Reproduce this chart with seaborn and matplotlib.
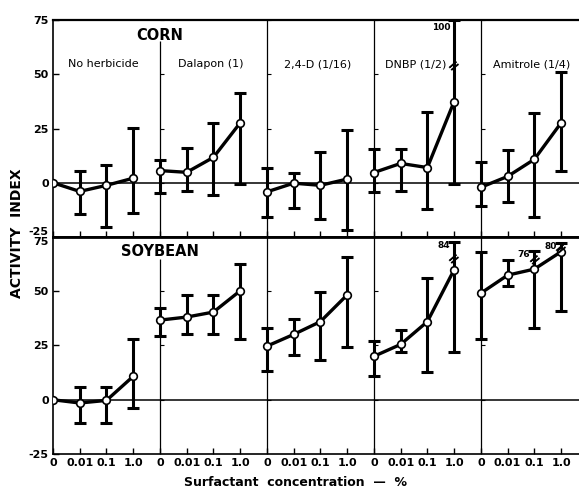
import numpy as np
import pandas as pd
import matplotlib
matplotlib.use("Agg")
import matplotlib.pyplot as plt
import seaborn as sns

# ---------------- data ----------------
concentrations = ["0", "0.01", "0.1", "1.0"]
treatments = ["No herbicide", "Dalapon (1)", "2,4-D (1/16)", "DNBP (1/2)", "Amitrole (1/4)"]

corn_mean = [0.0, -4.0, -1.2, 2.1, 5.6, 4.8, 11.7, 27.6, -4.2, -0.2, -1.2, 1.7,
             4.7, 8.9, 7.0, 37.4, -2.1, 2.9, 10.8, 27.6]
corn_low = [np.nan, -14.5, -20.5, -13.8, -4.7, -4.0, -5.5, -0.6, -15.8, -11.8, -16.8, -21.7,
            -4.2, -4.0, -12.0, -0.5, -10.8, -9.0, -15.6, 5.5]
corn_high = [np.nan, 5.6, 8.2, 25.3, 10.5, 15.8, 27.6, 41.5, 6.7, 4.7, 14.0, 24.4,
             15.5, 15.5, 32.4, 100.0, 9.7, 15.0, 32.1, 51.0]

soy_mean = [0.0, -1.5, -0.3, 10.8, 36.7, 38.1, 40.4, 50.2, 24.7, 30.1, 36.0, 48.3,
            20.0, 25.5, 36.0, 59.9, 49.1, 57.4, 60.2, 68.2]
soy_low = [np.nan, -10.5, -10.5, -3.9, 29.6, 30.4, 30.4, 28.2, 13.1, 20.8, 18.2, 24.4,
           10.8, 22.1, 12.6, 22.1, 28.2, 52.2, 33.2, 40.9]
soy_high = [np.nan, 5.9, 5.9, 28.2, 42.4, 48.3, 48.1, 62.5, 33.2, 37.0, 49.7, 65.9,
            27.0, 32.1, 56.0, 84.0, 67.9, 64.4, 76.0, 80.0]

# off-scale error bars: index, drawn cap height, break-mark height
corn_break_idx = [15]
corn_break_cap = [75.0]
corn_break_mark = [54.5]
soy_break_idx = [15, 18, 19]
soy_break_cap = [72.7, 68.5, 72.0]
soy_break_mark = [65.5, 65.0, 70.0]

# ---------------- style ----------------
sns.set_theme(style="ticks")
plt.rcParams["font.family"] = ["DejaVu Sans"]
for k in ["text.color", "axes.labelcolor", "xtick.color", "ytick.color", "axes.edgecolor"]:
    plt.rcParams[k] = "black"

n_conc = len(concentrations)
n_pos = n_conc * len(treatments)


def frame(mean, low, high, break_idx, break_cap):
    df = pd.DataFrame({
        "pos": np.arange(n_pos),
        "treatment": np.repeat(treatments, n_conc),
        "conc": concentrations * len(treatments),
        "mean": mean, "low": low, "high": high,
    })
    df["high_disp"] = df["high"]
    for i, c in zip(break_idx, break_cap):
        df.loc[i, "high_disp"] = c
    return df


corn = frame(corn_mean, corn_low, corn_high, corn_break_idx, corn_break_cap)
soy = frame(soy_mean, soy_low, soy_high, soy_break_idx, soy_break_cap)

fig = plt.figure(figsize=(5.79, 4.93), dpi=100)
ax1 = fig.add_axes([0.0915, 0.5193, 0.9085, 0.4401])
ax2 = fig.add_axes([0.0915, 0.0791, 0.9085, 0.4402])

XMAX = 19.67


def draw(ax, df, break_idx, break_cap, break_mark, sep_top_first, lab_dy):
    ax.set_xlim(0, XMAX)
    ax.set_ylim(-25, 75)
    ax.axhline(0, color="black", lw=1.1, zorder=1)
    # group separators
    for g in range(1, len(treatments)):
        top = sep_top_first if g == 1 else 75
        ax.vlines(g * n_conc, -25, top, color="black", lw=0.9, zorder=1)
        ax.plot([g * n_conc] * 4, [0, 25, 50, 75], ls="none", marker=1,
                ms=3, mew=0.8, color="black", zorder=1)
    e = df.dropna(subset=["low"])
    ax.errorbar(e["pos"], e["mean"],
                yerr=[e["mean"] - e["low"], e["high_disp"] - e["mean"]],
                fmt="none", ecolor="black", elinewidth=2.2, capsize=4.5,
                capthick=2.2, zorder=2)
    sns.lineplot(data=df, x="pos", y="mean", units="treatment", estimator=None,
                 sort=False, color="black", lw=2.4, marker="o", markersize=5.5,
                 markerfacecolor="white", markeredgecolor="black",
                 markeredgewidth=1.2, legend=False, ax=ax, zorder=3)
    for i, c, m in zip(break_idx, break_cap, break_mark):
        ax.text(i - 0.15, c + lab_dy, f"{df.loc[i, 'high']:.0f}", ha="right", va="center",
                fontsize=6.5, fontweight="bold")
        ax.text(i, m, "=", ha="center", va="center", rotation=40, fontsize=11,
                fontweight="bold", zorder=4)
    ax.set_xticks(np.arange(n_pos))
    ax.set_yticks([-25, 0, 25, 50, 75])
    ax.set_yticklabels(["-25", "0", "25", "50", "75"], fontsize=8, fontweight="bold")
    ax.tick_params(direction="in", length=4, width=1, pad=3, colors="black")
    ax.set_xlabel("")
    ax.set_ylabel("")
    ax.spines["right"].set_visible(False)
    for s in ["left", "bottom"]:
        ax.spines[s].set_linewidth(1.2)
    ax.spines["top"].set_linewidth(1.6)
    ax.grid(False)
    ax.set_facecolor("white")


draw(ax1, corn, corn_break_idx, corn_break_cap, corn_break_mark, 65.5, -3.5)
draw(ax2, soy, soy_break_idx, soy_break_cap, soy_break_mark, 65.0, -1.5)

ax1.tick_params(axis="x", labelbottom=False)
ax2.set_xticklabels(concentrations * len(treatments), fontsize=8, fontweight="bold")
ax1.spines["bottom"].set_linewidth(2.0)
ax2.spines["top"].set_linewidth(2.0)

# separate overlapping -25 / 75 labels
ax1.get_yticklabels()[0].set_va("bottom")
ax2.get_yticklabels()[-1].set_va("top")

ax1.text(4, 68, "CORN", ha="center", va="center", fontsize=10.5, fontweight="bold")
ax2.text(4, 68.5, "SOYBEAN", ha="center", va="center", fontsize=10.5, fontweight="bold")
for g, name in enumerate(treatments):
    off = -0.45 if g == 3 else -0.1
    ax1.text(g * n_conc + 2 + off, 54.5, name, ha="center", va="center",
             fontsize=8)

fig.text(0.03, 1 - 233 / 493, "ACTIVITY  INDEX", rotation=90, ha="center", va="center",
         fontsize=10, fontweight="bold")
fig.text(295 / 579, 1 - 482 / 493, "Surfactant  concentration  —  %", ha="center",
         va="center", fontsize=9, fontweight="bold")

fig.savefig("out.png", dpi=100, facecolor="white")
